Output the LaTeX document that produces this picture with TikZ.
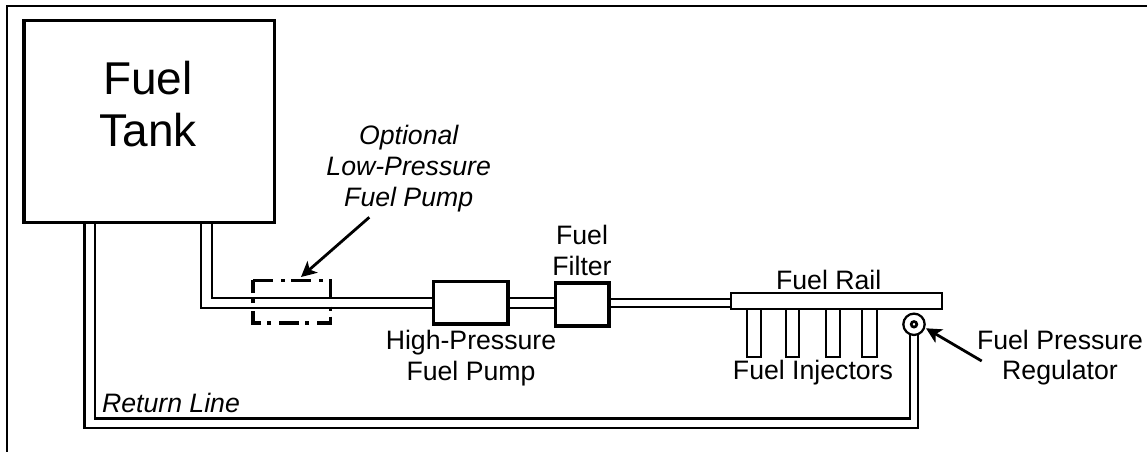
\documentclass[tikz,border=0pt]{standalone}
\usepackage{fontspec}
\setmainfont{Liberation Sans}
\usetikzlibrary{arrows.meta}
\tikzset{
  x=0.75pt,y=-0.75pt,
  sized/.style 2 args={minimum width=#1*0.75pt,minimum height=#2*0.75pt,inner sep=0pt,outer sep=0pt},
  frameline/.style={line width=1.5pt},
  pipe/.style={line width=1.6pt},
  thinpipe/.style={line width=1.4pt},
  tankbox/.style={draw,line width=2.7pt,fill=white},
  heavybox/.style={draw,line width=2.4pt,fill=white},
  railbox/.style={draw,line width=1.5pt,fill=white},
  injector/.style={draw,line width=1.4pt,fill=white},
  dashbox/.style={line width=2.5pt,dash pattern=on 15pt off 6pt on 3pt off 4.5pt},
  lbl/.style={font=\fontsize{20}{23}\selectfont,align=center,inner sep=0pt},
  ilbl/.style={font=\fontsize{20}{23.5}\selectfont\itshape,align=center,inner sep=0pt},
  biglbl/.style={font=\fontsize{34.5}{39}\selectfont,align=center,inner sep=0pt},
  pointer/.style={line width=2.1pt,-{Stealth[length=11.5pt,width=11.5pt,inset=3pt]}},
}
\begin{document}
\begin{tikzpicture}
\useasboundingbox (0,0) rectangle (1147,452);
\coordinate (fl) at (7.3,452);
\coordinate (fc) at (7.3,6);
\coordinate (fr) at (1147,6);
\draw[frameline] (fl) -- (fc) -- (fr);
% named pipe ends
\coordinate (ra1) at (84.5,222);
\coordinate (ra2) at (84.5,427.7);
\coordinate (ra3) at (918.3,427.7);
\coordinate (ra4) at (918.3,333);
\coordinate (rb1) at (95,222);
\coordinate (rb2) at (95,418.5);
\coordinate (rb3) at (910,418.5);
\coordinate (rb4) at (910,333);
\coordinate (sa1) at (201,222);
\coordinate (sa2) at (201,308);
\coordinate (sa3) at (582,308);
\coordinate (sb1) at (211.7,222);
\coordinate (sb2) at (211.7,298.3);
\coordinate (sb3) at (582,298.3);
\coordinate (ta1) at (605,299);
\coordinate (ta2) at (732,299);
\coordinate (tb1) at (605,306.7);
\coordinate (tb2) at (732,306.7);
\draw[pipe] (ra1) -- (ra2) -- (ra3) -- (ra4);
\draw[pipe] (rb1) -- (rb2) -- (rb3) -- (rb4);
\draw[pipe] (sa1) -- (sa2) -- (sa3);
\draw[pipe] (sb1) -- (sb2) -- (sb3);
\draw[thinpipe] (ta1) -- (ta2);
\draw[thinpipe] (tb1) -- (tb2);
% components
\node[tankbox,sized={250.5}{202}] (tank) at (149.25,121.5) {};
\node[biglbl] (tanktext) at (148,104) {Fuel\\Tank};
\node[sized={77.7}{42.7}] (lp) at (291.9,301.7) {};
\draw[dashbox] (lp.north west) -- (lp.north east) -- (lp.south east) -- (lp.south west) -- cycle;
\node[heavybox,sized={74.7}{42.3}] (hp) at (470.7,302.9) {};
\node[heavybox,sized={53.3}{43}] (filter) at (582.3,304.5) {};
\node[injector,sized={14}{47.7}] (inj1) at (753.7,332.8) {};
\node[injector,sized={13.3}{47.7}] (inj2) at (792.7,332.8) {};
\node[injector,sized={14.3}{47.7}] (inj3) at (833.2,332.8) {};
\node[injector,sized={14.7}{47.7}] (inj4) at (869.4,332.8) {};
\node[railbox,sized={211.3}{15.7}] (rail) at (836.3,301.2) {};
\node[circle,draw,line width=1.7pt,fill=white,minimum size=16pt,inner sep=0pt,outer sep=0pt] (reg) at (914,324.3) {};
\node[circle,draw,line width=2pt,fill=white,minimum size=4.2pt,inner sep=0pt,outer sep=0pt] (regin) at (914,324.3) {};
% labels
\node[ilbl] (lowtext) at (408.7,168.5) {Optional\\Low-Pressure\\Fuel Pump};
\node[lbl] (filtertext) at (582,250.5) {Fuel\\Filter};
\node[lbl] (hptext) at (471,358) {High-Pressure\\Fuel Pump};
\node[lbl,anchor=base] (railtext) at (828.7,289.3) {Fuel Rail};
\node[lbl,anchor=base] (injtext) at (813,380) {Fuel Injectors};
\node[lbl] (regtext) at (1060,357.5) {Fuel Pressure\\Regulator};
\node[ilbl,anchor=base] (rettext) at (171,413) {Return Line};
% pointers
\coordinate (lpstart) at (369.3,217.3);
\coordinate (lptip) at (301,277);
\coordinate (regstart) at (981.7,361);
\coordinate (regtip) at (926,328.3);
\draw[pointer] (lpstart) -- (lptip);
\draw[pointer] (regstart) -- (regtip);
\end{tikzpicture}
\end{document}
